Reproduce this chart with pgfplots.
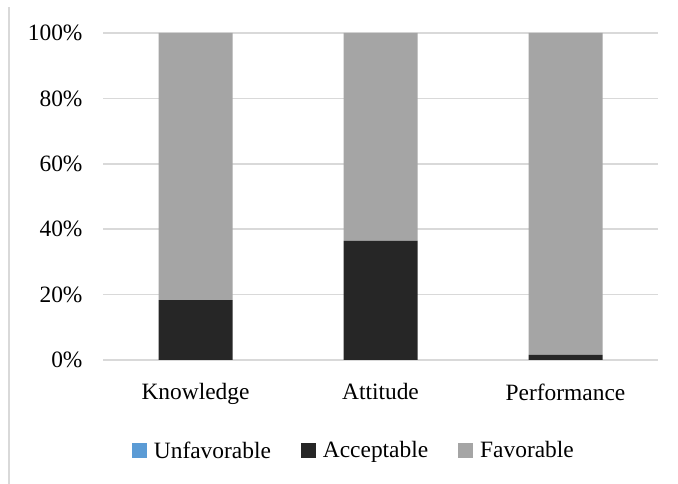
\documentclass[border=0pt]{standalone}
\usepackage{pgfplots}
\pgfplotsset{compat=1.18}
\usepackage{fontspec}
\setmainfont{Liberation Serif}
\definecolor{cblue}{HTML}{5B9BD5}
\definecolor{cdark}{HTML}{262626}
\definecolor{cgray}{HTML}{A5A5A5}
\definecolor{cgrid}{HTML}{D9D9D9}
\begin{document}
\begin{tikzpicture}[x=1bp,y=1bp]
\useasboundingbox (0,0) rectangle (678,484);
\draw[cgrid, line width=1.5bp] (9,0) -- (9,477);
\begin{axis}[
  at={(103bp,124bp)}, anchor=south west,
  scale only axis, width=555bp, height=327bp,
  ybar stacked, bar width=74bp,
  xmin=-0.5, xmax=2.5, ymin=0, ymax=100,
  xtick={0,1,2}, xticklabels={Knowledge,Attitude,Performance},
  ytick={0,20,40,60,80,100},
  yticklabel={\pgfmathprintnumber{\tick}\%},
  /pgf/number format/assume math mode=true,
  ymajorgrids, grid style={cgrid, line width=1.5bp},
  axis lines*=left,
  y axis line style={draw=none},
  x axis line style={cgrid, line width=1.5bp},
  major tick length=0pt, tick style={draw=none},
  ticklabel style={font=\fontsize{23.5}{28}\selectfont},
  yticklabel style={xshift=-17bp},
  xticklabel style={yshift=-20bp},
  legend style={at={(axis description cs:0.452,-0.2768)}, anchor=center,
    draw=none, fill=none, font=\fontsize{23.5}{28}\selectfont,
    legend columns=3,
    /tikz/every even column/.append style={column sep=28bp}},
  legend image code/.code={\fill[#1] (0bp,-7.5bp) rectangle (15bp,7.5bp); \path (20bp,0bp);},
]
\addplot[fill=cblue, draw=none] coordinates {(0,0) (1,0) (2,0)};
\addplot[fill=cdark, draw=none] coordinates {(0,18.3) (1,36.4) (2,1.6)};
\addplot[fill=cgray, draw=none] coordinates {(0,81.7) (1,63.6) (2,98.4)};
\legend{Unfavorable,Acceptable,Favorable}
\end{axis}
\end{tikzpicture}
\end{document}
